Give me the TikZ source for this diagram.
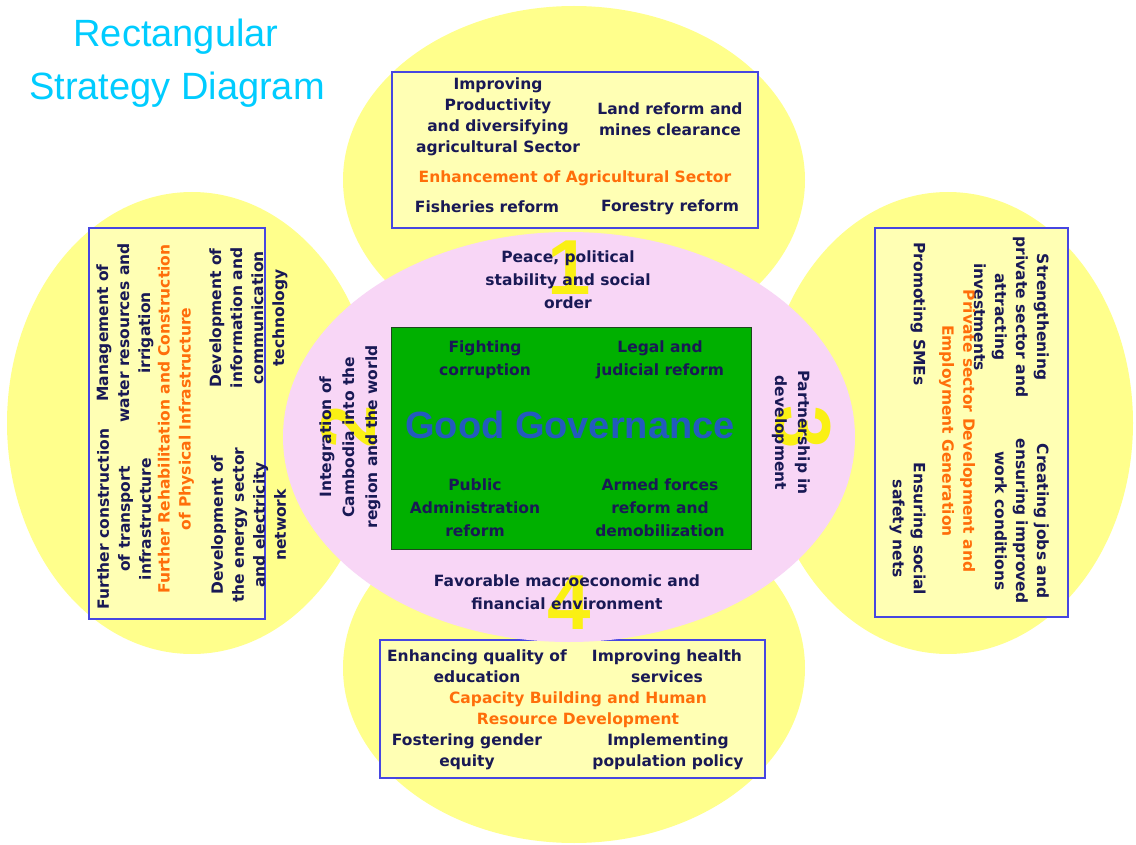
\documentclass[tikz,border=0pt]{standalone}
\usepackage{fontspec}
\usetikzlibrary{shapes.geometric}
\newfontfamily\bodyf{DejaVu Sans}
\newfontfamily\titlef{Liberation Sans}
\definecolor{cyel}{RGB}{255,255,140}
\definecolor{boxyel}{RGB}{255,255,180}
\definecolor{boxblue}{RGB}{70,70,225}
\definecolor{cpink}{RGB}{248,214,246}
\definecolor{cgreen}{RGB}{0,176,0}
\definecolor{gborder}{RGB}{30,70,30}
\definecolor{navy}{RGB}{25,25,85}
\definecolor{corange}{RGB}{255,110,10}
\definecolor{ccyan}{RGB}{0,204,255}
\definecolor{gblue}{RGB}{35,90,190}
\definecolor{numyel}{RGB}{250,240,20}
\begin{document}
\begin{tikzpicture}[x=1pt,y=-1pt,
  petal/.style={ellipse,fill=cyel,inner sep=0pt},
  panel/.style={draw=boxblue,line width=1.5pt,fill=boxyel,inner sep=0pt},
  txt/.style={font=\bodyf\bfseries\fontsize{15.5}{21}\selectfont,text=navy,align=center,inner sep=0pt},
  otxt/.style={txt,text=corange},
  ptxt/.style={txt,font=\bodyf\bfseries\fontsize{15.5}{23}\selectfont},
  num/.style={font=\titlef\bfseries\fontsize{78}{78}\selectfont,text=numyel,inner sep=0pt},
  ttl/.style={font=\titlef\fontsize{38}{38}\selectfont,text=ccyan,inner sep=0pt,anchor=base},
]
\useasboundingbox (0,0) rectangle (1136,845);
\fill[white] (0,0) rectangle (1136,845);

% petals
\node[petal,minimum width=462pt,minimum height=348pt] (ptop) at (574,180) {};
\node[petal,minimum width=462pt,minimum height=350pt] (pbot) at (574,668) {};
\node[petal,minimum width=370pt,minimum height=462pt] (pleft) at (192,423) {};
\node[petal,minimum width=370pt,minimum height=462pt] (pright) at (948,423) {};

% panels
\node[panel,minimum width=366pt,minimum height=156pt] (btop) at (575,150) {};
\node[panel,minimum width=176pt,minimum height=391pt] (bleft) at (177,423.5) {};
\node[panel,minimum width=193pt,minimum height=389pt] (bright) at (971.5,422.5) {};
\node[panel,minimum width=385pt,minimum height=138pt] (bbot) at (572.5,709) {};

% central ellipse
\node[ellipse,fill=cpink,minimum width=572pt,minimum height=410pt,inner sep=0pt] (oval) at (569,437) {};

% numbers
\node[num] (n1) at (569,268) {1};
\node[num,rotate=90] (n2) at (348,427) {2};
\node[num,rotate=-90] (n3) at (803,427) {3};
\node[num] (n4) at (569,603) {4};

% green rectangle
\node[fill=cgreen,draw=gborder,line width=1pt,minimum width=360pt,minimum height=222pt,inner sep=0pt] (gg) at (571,438) {};

% title
\node[ttl] (t1) at (176,47) {Rectangular};
\node[ttl] (t2) at (177,100) {Strategy Diagram};

% top panel texts
\node[txt] (a1) at (498,116.5) {Improving\\Productivity\\and diversifying\\agricultural Sector};
\node[txt] (a2) at (670,119) {Land reform and\\mines clearance};
\node[otxt] (a0) at (575,178) {Enhancement of Agricultural Sector};
\node[txt] (a3) at (487,207) {Fisheries reform};
\node[txt] (a4) at (670,207) {Forestry reform};

% bottom panel texts
\node[txt] (d1) at (477,666) {Enhancing quality of\\education};
\node[txt] (d2) at (667,666) {Improving health\\services};
\node[otxt] (d0) at (578,709.5) {Capacity Building and Human\\Resource Development};
\node[txt] (d3) at (467,751.5) {Fostering gender\\equity};
\node[txt] (d4) at (668,751.5) {Implementing\\population policy};

% left panel texts
\node[txt,rotate=90] (l1) at (124,519) {Further construction\\of transport\\infrastructure};
\node[txt,rotate=90] (l2) at (125,333) {Management of\\water resources and\\irrigation};
\node[otxt,rotate=90] (l0) at (176,419) {Further Rehabilitation and Construction\\of Physical Infrastructure};
\node[txt,rotate=90] (l3) at (248.5,525) {Development of\\the energy sector\\and electricity\\network};
\node[txt,rotate=90] (l4) at (248.5,318) {Development of\\information and\\communication\\technology};

% right panel texts
\node[txt,rotate=-90] (r1) at (1011.5,317) {Strengthening\\private sector and\\attracting\\investments};
\node[txt,rotate=-90] (r2) at (1022,521) {Creating jobs and\\ensuring improved\\work conditions};
\node[otxt,rotate=-90] (r0) at (957,431) {Private sector Development and\\Employment Generation};
\node[txt,rotate=-90] (r3) at (918,314) {Promoting SMEs};
\node[txt,rotate=-90] (r4) at (907.5,529) {Ensuring social\\safety nets};

% ellipse texts
\node[ptxt] (e1) at (568,280) {Peace, political\\stability and social\\order};
\node[ptxt] (e4) at (567,592) {Favorable macroeconomic and\\financial environment};
\node[ptxt,rotate=90] (e2) at (350,437) {Integration of\\Cambodia into the\\region and the world};
\node[ptxt,rotate=-90] (e3) at (791,433) {Partnership in\\development};

% green texts
\node[ptxt] (g1) at (485,360) {Fighting\\corruption};
\node[ptxt] (g2) at (660,360) {Legal and\\judicial reform};
\node[ptxt] (g3) at (475,508) {Public\\Administration\\reform};
\node[ptxt] (g4) at (660,508) {Armed forces\\reform and\\demobilization};
\node[font=\titlef\bfseries\fontsize{38}{38}\selectfont,text=gblue,inner sep=0pt] (gov) at (570,425) {Good Governance};
\end{tikzpicture}
\end{document}
